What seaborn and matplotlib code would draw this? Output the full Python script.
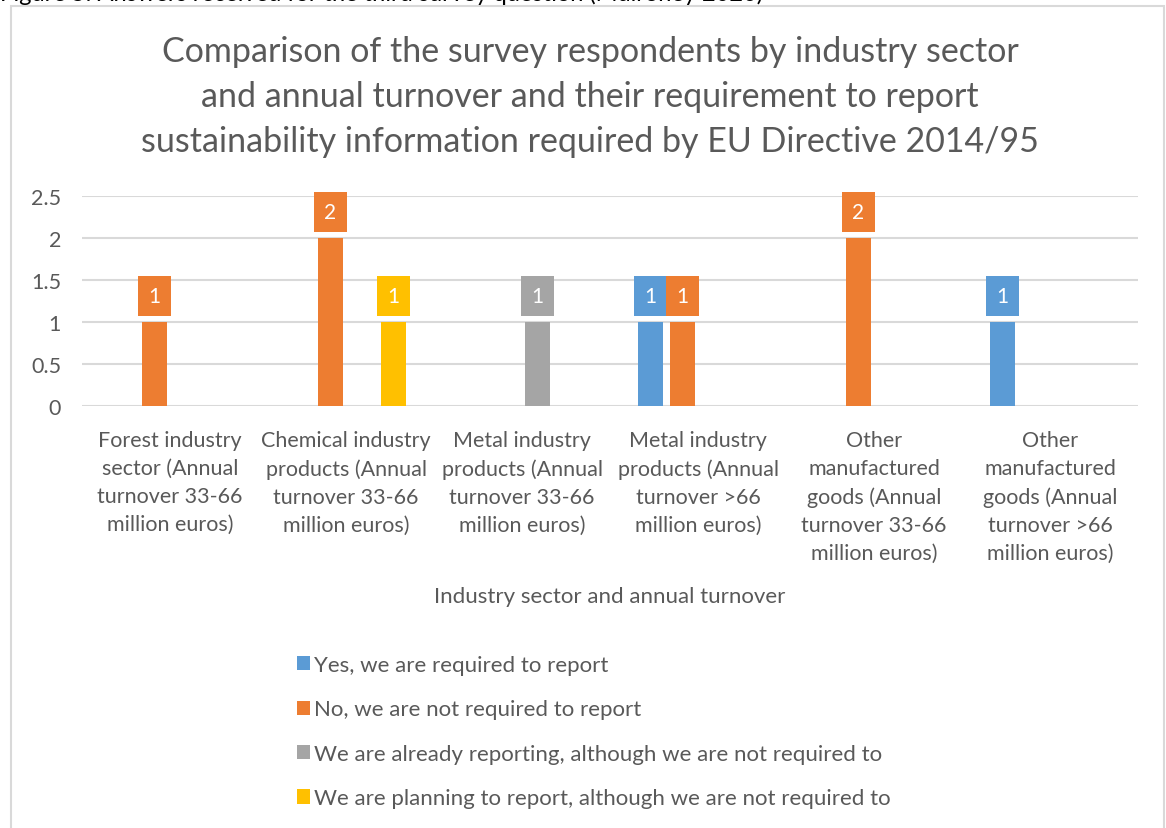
import matplotlib
matplotlib.use("Agg")
import matplotlib.pyplot as plt
from matplotlib.patches import Patch, Rectangle
import seaborn as sns
import pandas as pd

categories = [
    "Forest industry\nsector (Annual\nturnover 33-66\nmillion euros)",
    "Chemical industry\nproducts (Annual\nturnover 33-66\nmillion euros)",
    "Metal industry\nproducts (Annual\nturnover 33-66\nmillion euros)",
    "Metal industry\nproducts (Annual\nturnover >66\nmillion euros)",
    "Other\nmanufactured\ngoods (Annual\nturnover 33-66\nmillion euros)",
    "Other\nmanufactured\ngoods (Annual\nturnover >66\nmillion euros)",
]
series = [
    "Yes, we are required to report",
    "No, we are not required to report",
    "We are already reporting, although we are not required to",
    "We are planning to report, although we are not required to",
]
yes_required = [0, 0, 0, 1, 0, 1]
not_required = [1, 2, 0, 1, 2, 0]
already_reporting = [0, 0, 1, 0, 0, 0]
planning_report = [0, 1, 0, 0, 0, 0]
yticks = [0, 0.5, 1, 1.5, 2, 2.5]
colors = ["#5B9BD5", "#ED7D31", "#A5A5A5", "#FFC000"]
title = ("Comparison of the survey respondents by industry sector\n"
         "and annual turnover and their requirement to report\n"
         "sustainability information required by EU Directive 2014/95")
xlabel = "Industry sector and annual turnover"
caption = "Figure 5: Answers received for the third survey question (Mulroney 2020)"

rows = []
for s, vals in zip(series, [yes_required, not_required, already_reporting, planning_report]):
    for c, v in zip(categories, vals):
        rows.append({"category": c, "series": s, "value": v})
df = pd.DataFrame(rows)

sns.set_theme(style="white")
FONT = ["Lato", "DejaVu Sans"]
plt.rcParams["font.family"] = FONT
TXT = "#595959"

fig = plt.figure(figsize=(11.66, 8.29), dpi=100)
ax = fig.add_axes([82/1166, 1-407/829, (1138-82)/1166, (407-197)/829])

sns.barplot(data=df, x="category", y="value", hue="series", order=categories,
            hue_order=series, palette=colors, width=0.716, gap=0.2,
            linewidth=0, saturation=1, legend=False, ax=ax, errorbar=None)

ax.set_ylim(0, 2.5)
ax.set_yticks(yticks)
ax.set_yticklabels([f"{t:g}" for t in yticks])
ax.yaxis.grid(True, color="#D9D9D9", linewidth=1.5)
ax.set_axisbelow(True)
for sp in ax.spines.values():
    sp.set_visible(False)
ax.tick_params(axis="y", length=0, labelsize=15.5, labelcolor=TXT, pad=15)
ax.tick_params(axis="x", length=0, labelsize=15.5, labelcolor=TXT, pad=17)
ax.set_xticks(range(len(categories)))
ax.set_xticks([i + 0.5 for i in range(-1, len(categories))], minor=True)
ax.tick_params(axis="x", which="minor", length=5, color="#D9D9D9", width=1)
ax.set_xlim(-0.5, len(categories) - 0.5)
for lab in ax.get_xticklabels():
    lab.set_linespacing(1.5)
ax.set_xlabel(xlabel, fontsize=16, color=TXT, labelpad=17)
ax.set_ylabel("")

# data labels
for p in ax.patches:
    h = p.get_height()
    if h > 0:
        ax.text(p.get_x() + p.get_width()/2, h + 0.31, f"{h:g}", ha="center", va="center",
                color="white", fontsize=15,
                bbox=dict(boxstyle="square,pad=0.5", facecolor=p.get_facecolor(), edgecolor="none"))

fig.text(590/1166, 1-97/829, title, ha="center", va="center", fontsize=24.5, color=TXT,
         linespacing=1.5)

handles = [Patch(facecolor=c, edgecolor="none") for c in colors]
leg = fig.legend(handles, series, loc="upper left", bbox_to_anchor=(277/1166, 1-636/829),
                 frameon=False, fontsize=16, labelcolor=TXT, handlelength=0.6,
                 handleheight=0.6, handletextpad=0.15, labelspacing=1.1)

# chart border and clipped caption
fig.patches.append(Rectangle((11/1166, -0.05), (1164-11)/1166, 1.05 - 7/829,
                             transform=fig.transFigure, fill=False,
                             edgecolor="#D9D9D9", linewidth=1.5))
fig.text(0.0, 1-1/829, caption, ha="left", va="baseline", fontsize=17, color="black")

fig.savefig("out.png", dpi=100)
